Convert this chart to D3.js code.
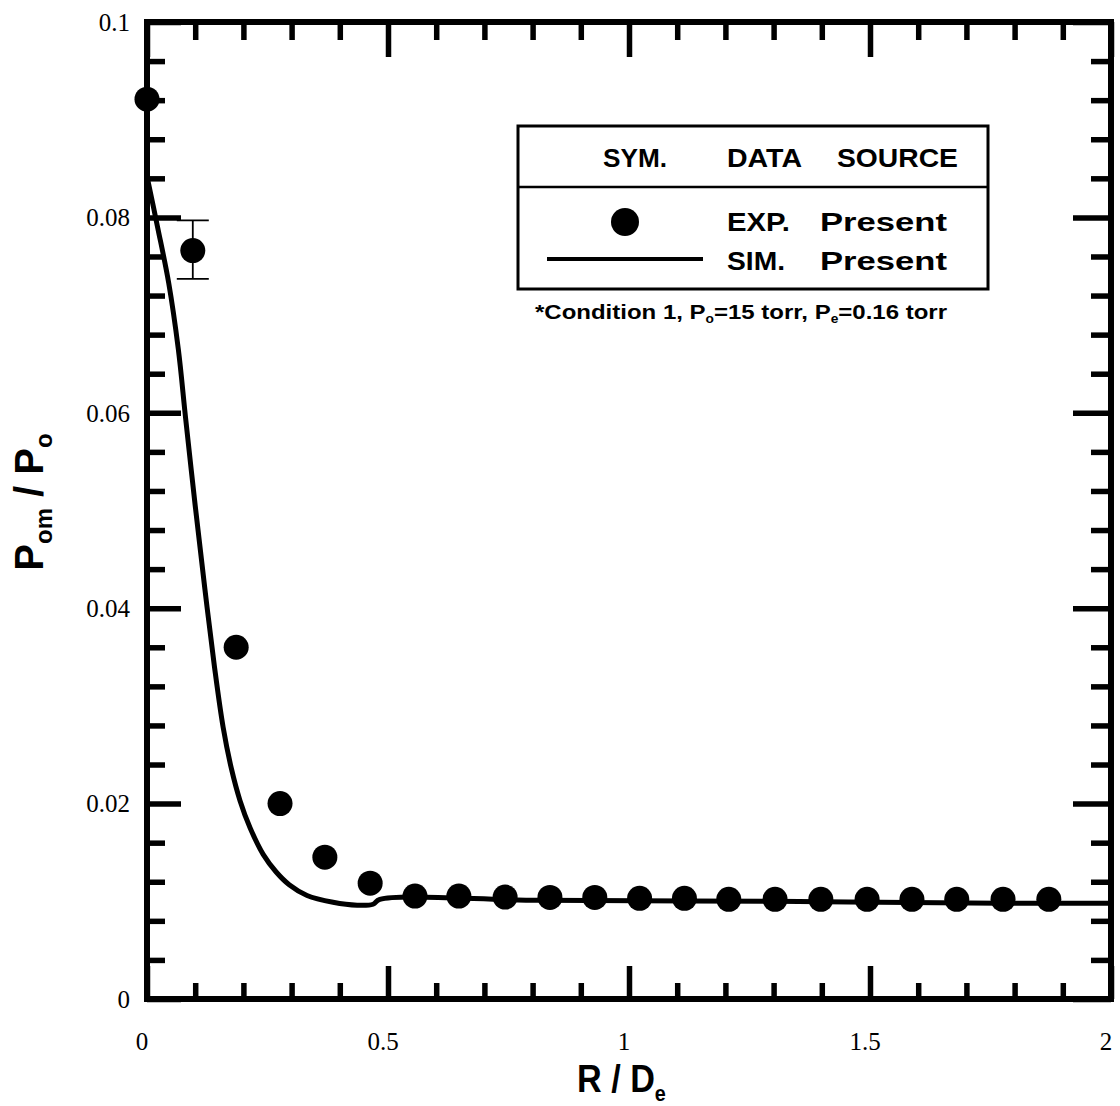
<!DOCTYPE html>
<html>
<head>
<meta charset="utf-8">
<script src="https://cdn.jsdelivr.net/npm/d3@7"></script>
<style>
  body { margin: 0; background: #fff; }
  svg { display: block; }
</style>
</head>
<body>
<div id="chart"></div>
<script>
const w = 1120;
const h = 1106;

// experimental points (R/De, Pom/Po)
const expX = [0, 0.095, 0.185, 0.276, 0.369, 0.463, 0.556, 0.647, 0.743, 0.836, 0.929, 1.022, 1.115,
              1.207, 1.303, 1.398, 1.494, 1.587, 1.680, 1.776, 1.871];
const expY = [0.0921, 0.0766, 0.0360, 0.0200, 0.01452, 0.01186, 0.01053, 0.01053, 0.01043, 0.0104, 0.0104,
              0.0103, 0.0103, 0.0102, 0.0102, 0.0102, 0.0102, 0.0102, 0.0102, 0.0102, 0.0102];
// error bar on second point
const errBar = { x: 0.095, lo: 0.0737, hi: 0.0797 };

// simulation curve
const simX = [0, 0.022, 0.045, 0.065, 0.080, 0.100, 0.120, 0.140, 0.158, 0.175, 0.193, 0.214,
              0.241, 0.268, 0.295, 0.332, 0.386, 0.436, 0.469, 0.483, 0.815, 1.30, 1.77, 2.0];
const simY = [0.0842, 0.0790, 0.0733, 0.0665, 0.0595, 0.0505, 0.0420, 0.0340, 0.0278, 0.0236, 0.0203, 0.0175,
              0.0148, 0.0130, 0.0117, 0.0106, 0.0099, 0.0096, 0.0097, 0.0102, 0.0101, 0.0100, 0.0098, 0.0098];

const xMajor = [0, 0.5, 1, 1.5, 2];
const xMinor = [0.1, 0.2, 0.3, 0.4, 0.6, 0.7, 0.8, 0.9, 1.1, 1.2, 1.3, 1.4, 1.6, 1.7, 1.8, 1.9];
const yMajor = [0, 0.02, 0.04, 0.06, 0.08, 0.1];
const yMinor = [0.004, 0.008, 0.012, 0.016, 0.024, 0.028, 0.032, 0.036, 0.044, 0.048, 0.052, 0.056,
                0.064, 0.068, 0.072, 0.076, 0.084, 0.088, 0.092, 0.096];
const yTickLabels = ["0", "0.02", "0.04", "0.06", "0.08", "0.1"];
const xTickLabels = ["0", "0.5", "1", "1.5", "2"];

const pLeft = 147, pRight = 1111, pTop = 22, pBottom = 999;

const x = d3.scaleLinear().domain([0, 2]).range([pLeft, pRight]);
const y = d3.scaleLinear().domain([0, 0.1]).range([pBottom, pTop]);

const svg = d3.select("#chart")
    .append("svg")
    .attr("width", w)
    .attr("height", h);

const serif = "'Liberation Serif', 'Times New Roman', serif";
const sans = "'Liberation Sans', Arial, sans-serif";

// ticks (inward, no domain path)
function tickAxis(axis, vals, len, translate) {
    const g = svg.append("g")
        .attr("transform", translate)
        .call(axis.tickValues(vals).tickSize(-len).tickFormat(""));
    g.select(".domain").remove();
    g.selectAll(".tick line").attr("stroke", "#000").attr("stroke-width", 5.5);
    return g;
}
tickAxis(d3.axisBottom(x), xMinor, 16, `translate(0,${pBottom})`);
tickAxis(d3.axisBottom(x), xMajor, 33, `translate(0,${pBottom})`);
tickAxis(d3.axisTop(x), xMinor, 18, `translate(0,${pTop})`);
tickAxis(d3.axisTop(x), xMajor, 35, `translate(0,${pTop})`);
tickAxis(d3.axisLeft(y), yMinor, 18, `translate(${pLeft},0)`);
tickAxis(d3.axisLeft(y), yMajor, 34, `translate(${pLeft},0)`);
tickAxis(d3.axisRight(y), yMinor, 20, `translate(${pRight},0)`);
tickAxis(d3.axisRight(y), yMajor, 38, `translate(${pRight},0)`);

// frame
svg.append("rect")
    .attr("x", pLeft).attr("y", pTop)
    .attr("width", pRight - pLeft).attr("height", pBottom - pTop)
    .attr("fill", "none").attr("stroke", "#000").attr("stroke-width", 6);

// tick labels
svg.selectAll(".ylab")
    .data(yMajor)
    .enter()
    .append("text")
    .attr("class", "ylab")
    .attr("x", 130)
    .attr("y", d => y(d))
    .attr("dy", "0.35em")
    .attr("text-anchor", "end")
    .style("font-family", serif)
    .style("font-size", "25px")
    .text((d, i) => yTickLabels[i]);

svg.selectAll(".xlab")
    .data(xMajor)
    .enter()
    .append("text")
    .attr("class", "xlab")
    .attr("x", d => x(d) - 5)
    .attr("y", 1050)
    .attr("text-anchor", "middle")
    .style("font-family", serif)
    .style("font-size", "25px")
    .text((d, i) => xTickLabels[i]);

// axis titles
const xt = svg.append("text")
    .attr("transform", "translate(577,1092) scale(0.9,1)")
    .style("font-family", sans)
    .style("font-weight", "bold")
    .style("font-size", "38px");
xt.append("tspan").text("R / D");
xt.append("tspan").attr("dy", 9).style("font-size", "22px").text("e");

const yt = svg.append("text")
    .attr("transform", "translate(43,502) rotate(-90)")
    .attr("text-anchor", "middle")
    .style("font-family", sans)
    .style("font-weight", "bold")
    .style("font-size", "40px");
yt.append("tspan").text("P");
yt.append("tspan").attr("dy", 9).style("font-size", "24px").text("om");
yt.append("tspan").attr("dy", -9).text(" / P");
yt.append("tspan").attr("dy", 9).style("font-size", "24px").text("o");

// simulation curve
const line = d3.line()
    .x(d => x(d[0]))
    .y(d => y(d[1]))
    .curve(d3.curveCatmullRom.alpha(0.5));

svg.append("path")
    .datum(simX.map((v, i) => [v, simY[i]]))
    .attr("d", line)
    .attr("fill", "none")
    .attr("stroke", "#000")
    .attr("stroke-width", 5);

// error bar
const eb = svg.append("g").attr("stroke", "#000").attr("stroke-width", 1.8);
eb.append("line").attr("x1", x(errBar.x)).attr("x2", x(errBar.x)).attr("y1", y(errBar.hi)).attr("y2", y(errBar.lo));
eb.append("line").attr("x1", x(errBar.x) - 16).attr("x2", x(errBar.x) + 16).attr("y1", y(errBar.hi)).attr("y2", y(errBar.hi));
eb.append("line").attr("x1", x(errBar.x) - 16).attr("x2", x(errBar.x) + 16).attr("y1", y(errBar.lo)).attr("y2", y(errBar.lo));

// experimental points
svg.selectAll(".pt")
    .data(expX.map((v, i) => [v, expY[i]]))
    .enter()
    .append("circle")
    .attr("class", "pt")
    .attr("cx", d => x(d[0]))
    .attr("cy", d => y(d[1]))
    .attr("r", 12.5)
    .attr("fill", "#000");

// legend box
const lg = svg.append("g");
lg.append("rect")
    .attr("x", 518).attr("y", 126).attr("width", 470).attr("height", 163)
    .attr("fill", "#fff").attr("stroke", "#000").attr("stroke-width", 3);
lg.append("line")
    .attr("x1", 518).attr("x2", 988).attr("y1", 187).attr("y2", 187)
    .attr("stroke", "#000").attr("stroke-width", 2.5);

function lgText(tx, ty, str, len) {
    lg.append("text")
        .attr("x", tx).attr("y", ty)
        .attr("textLength", len)
        .attr("lengthAdjust", "spacingAndGlyphs")
        .style("font-family", sans)
        .style("font-weight", "bold")
        .style("font-size", "26px")
        .text(str);
}
lgText(603, 167, "SYM.", 64);
lgText(727, 167, "DATA", 75);
lgText(837, 167, "SOURCE", 121);
lgText(727, 231, "EXP.", 63);
lgText(820, 231, "Present", 127);
lgText(727, 270, "SIM.", 58);
lgText(820, 270, "Present", 127);

lg.append("circle").attr("cx", 625).attr("cy", 222).attr("r", 14).attr("fill", "#000");
lg.append("line")
    .attr("x1", 547).attr("x2", 703).attr("y1", 259).attr("y2", 259)
    .attr("stroke", "#000").attr("stroke-width", 4);

// footnote
const fn = svg.append("text")
    .attr("x", 535).attr("y", 319)
    .attr("textLength", 412)
    .attr("lengthAdjust", "spacingAndGlyphs")
    .style("font-family", sans)
    .style("font-weight", "bold")
    .style("font-size", "21px");
fn.append("tspan").text("*Condition 1, P");
fn.append("tspan").attr("dy", 4).style("font-size", "12px").text("o");
fn.append("tspan").attr("dy", -4).text("=15 torr, P");
fn.append("tspan").attr("dy", 4).style("font-size", "12px").text("e");
fn.append("tspan").attr("dy", -4).text("=0.16 torr");
</script>
</body>
</html>
